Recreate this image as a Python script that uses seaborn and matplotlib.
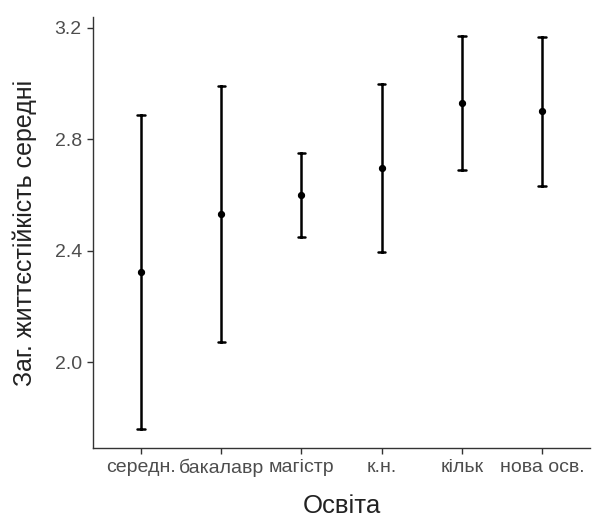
import matplotlib
matplotlib.use("Agg")
import matplotlib.pyplot as plt
import seaborn as sns
import pandas as pd

# Group means with lower / upper interval bounds
categories = ["середн.", "бакалавр", "магістр", "к.н.", "кільк", "нова осв."]
means = [2.325, 2.534, 2.602, 2.696, 2.929, 2.901]
lower = [1.762, 2.073, 2.450, 2.395, 2.689, 2.634]
upper = [2.886, 2.993, 2.751, 2.998, 3.171, 3.166]
y_ticks = [2.0, 2.4, 2.8, 3.2]

sns.set_theme(style="ticks")
plt.rcParams["font.family"] = ["Liberation Sans", "DejaVu Sans"]

# Long table: each group holds its lower bound, mean and upper bound
rows = []
for c, lo, m, hi in zip(categories, lower, means, upper):
    for v in (lo, m, hi):
        rows.append({"Освіта": c, "value": v})
df = pd.DataFrame(rows)

fig = plt.figure(figsize=(5.92, 5.21), dpi=100)
ax = fig.add_axes([0.157, 0.140, 0.840, 0.827])

sns.pointplot(
    data=df, x="Освіта", y="value", order=categories,
    estimator="median",
    errorbar=lambda v: (v.min(), v.max()),
    linestyle="none", color="black", capsize=0.09,
    err_kws={"linewidth": 1.8}, markersize=3.2, ax=ax,
)

ax.set_xlim(-0.6, 5.6)
ax.set_ylim(1.693, 3.238)
ax.set_yticks(y_ticks)
ax.set_yticklabels([f"{t:.1f}" for t in y_ticks])

for side in ("top", "right"):
    ax.spines[side].set_visible(False)
for side in ("left", "bottom"):
    ax.spines[side].set_color("#333333")
    ax.spines[side].set_linewidth(1.0)

ax.tick_params(axis="both", colors="#333333", labelcolor="#4d4d4d",
               labelsize=14, length=4, width=1.0, pad=4)
ax.set_xlabel("Освіта", fontsize=18.5, color="#222222", labelpad=12)
ax.set_ylabel("Заг. життєстійкість середні", fontsize=18, color="#222222", labelpad=13)

fig.savefig("out.png", dpi=100)
